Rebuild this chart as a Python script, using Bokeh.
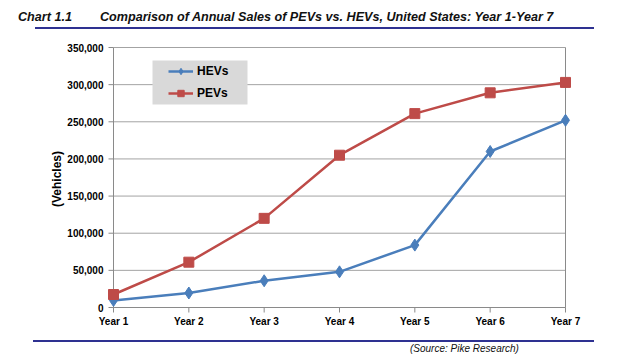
from bokeh.plotting import figure
from bokeh.models import (Range1d, FixedTicker, NumeralTickFormatter, Legend, LegendItem,
                          BoxAnnotation, Div, ColumnDataSource)
from bokeh.layouts import column
from bokeh.embed import file_html
from bokeh.resources import INLINE

# ---- data ----
years = ["Year 1", "Year 2", "Year 3", "Year 4", "Year 5", "Year 6", "Year 7"]
hevs = [9500, 19500, 36000, 48000, 84000, 210000, 252000]
pevs = [17500, 61000, 120000, 205000, 261000, 289000, 303000]
y_ticks = [0, 50000, 100000, 150000, 200000, 250000, 300000, 350000]

title_num = "Chart 1.1"
title_text = "Comparison of Annual Sales of PEVs vs. HEVs, United States: Year 1-Year 7"
source_text = "(Source: Pike Research)"
y_title = "(Vehicles)"

# ---- layout constants ----
FONT = "Liberation Sans"
BLUE = "#4a7ebb"
RED = "#be4b48"
NAVY = "#2e3191"
GRID = "#a3a3a3"
AXIS = "#8a8a8a"

xs = list(range(1, len(years) + 1))
PX_X = 452 / (xs[-1] - xs[0])          # pixels per category step
PX_Y = 260 / y_ticks[-1]               # pixels per unit
x_pad = 8 / PX_X
y_range = Range1d(-6 / PX_Y, y_ticks[-1] + 3 / PX_Y)
x_range = Range1d(xs[0] - x_pad, xs[-1] + x_pad)

src = ColumnDataSource(dict(x=xs, year=years, hev=hevs, pev=pevs))

p = figure(width=620, height=298, x_range=x_range, y_range=y_range,
           output_backend="svg", toolbar_location=None,
           min_border_left=105, min_border_right=47, min_border_top=8, min_border_bottom=21)
p.outline_line_color = None
p.xgrid.visible = False
p.ygrid.visible = False
p.background_fill_color = "white"
p.border_fill_color = "white"

# gridlines, axis lines, ticks (drawn inside the frame)
x0, x1 = xs[0], xs[-1]
p.segment(x0=[x0] * len(y_ticks), x1=[x1] * len(y_ticks), y0=y_ticks, y1=y_ticks,
          line_color=GRID, line_width=1)
p.segment(x0=[x0, x1], x1=[x0, x1], y0=[0, 0], y1=[y_ticks[-1], y_ticks[-1]],
          line_color=AXIS, line_width=1)
p.segment(x0=[x0], x1=[x1], y0=[0], y1=[0], line_color=AXIS, line_width=1)
p.segment(x0=[x0 - 5 / PX_X] * len(y_ticks), x1=[x0] * len(y_ticks), y0=y_ticks, y1=y_ticks,
          line_color=AXIS, line_width=1)
p.segment(x0=xs, x1=xs, y0=[0] * len(xs), y1=[-5 / PX_Y] * len(xs),
          line_color=AXIS, line_width=1)

# series
hev_line = p.line("x", "hev", source=src, line_color=BLUE, line_width=2.5)
hev_pts = p.scatter("x", "hev", source=src, marker="diamond", size=12,
                    fill_color=BLUE, line_color=BLUE)
pev_line = p.line("x", "pev", source=src, line_color=RED, line_width=2.5)
pev_pts = p.scatter("x", "pev", source=src, marker="square", size=10,
                    fill_color=RED, line_color=RED)

# axes
p.xaxis.ticker = FixedTicker(ticks=xs)
p.xaxis.major_label_overrides = {x: y for x, y in zip(xs, years)}
p.xaxis.axis_line_color = None
p.xaxis.major_tick_line_color = None
p.xaxis.minor_tick_line_color = None
p.xaxis.major_label_standoff = -4
p.xaxis.major_label_text_font = FONT
p.xaxis.major_label_text_font_size = "10px"
p.xaxis.major_label_text_font_style = "bold"
p.xaxis.major_label_text_color = "black"

p.yaxis.ticker = FixedTicker(ticks=y_ticks)
p.yaxis.formatter = NumeralTickFormatter(format="0,0")
p.yaxis.axis_line_color = None
p.yaxis.major_tick_line_color = None
p.yaxis.minor_tick_line_color = None
p.yaxis.major_label_standoff = -4
p.yaxis.major_label_text_font = FONT
p.yaxis.major_label_text_font_size = "10px"
p.yaxis.major_label_text_font_style = "bold"
p.yaxis.major_label_text_color = "black"
p.yaxis.axis_label = y_title
p.yaxis.axis_label_text_font = FONT
p.yaxis.axis_label_text_font_size = "12px"
p.yaxis.axis_label_text_font_style = "bold"
p.yaxis.axis_label_text_color = "black"
p.yaxis.axis_label_standoff = 0

# legend box and legend
box = BoxAnnotation(left=x0 + (152 - 113) / PX_X, right=x0 + (247 - 113) / PX_X,
                    top=(307 - 60) / PX_Y, bottom=(307 - 104) / PX_Y,
                    fill_color="#d9d9d9", fill_alpha=1, line_color=None)
p.add_layout(box)

legend = Legend(items=[LegendItem(label="HEVs", renderers=[hev_line, hev_pts]),
                       LegendItem(label="PEVs", renderers=[pev_line, pev_pts])],
                location=(63, 212), orientation="vertical",
                background_fill_alpha=0, border_line_color=None,
                padding=0, margin=0, spacing=6, glyph_width=25, glyph_height=16,
                label_height=16, label_standoff=4,
                label_text_font=FONT, label_text_font_size="12px",
                label_text_font_style="bold", label_text_color="black")
p.add_layout(legend, "center")

top_html = (
    f'<div style="position:relative;width:620px;height:36px;font-family:\'{FONT}\',Arial,sans-serif;color:#111;">'
    f'<span style="position:absolute;left:18px;top:10px;font-size:12.6px;line-height:15px;'
    f'font-weight:bold;font-style:italic;white-space:nowrap">{title_num}</span>'
    f'<span style="position:absolute;left:100px;top:10px;font-size:12.6px;line-height:15px;'
    f'font-weight:bold;font-style:italic;white-space:nowrap">{title_text}</span>'
    f'<div style="position:absolute;left:35px;top:27px;width:559px;height:2px;background:{NAVY}"></div>'
    f'</div>'
)
bottom_html = (
    f'<div style="position:relative;width:620px;height:24px;font-family:\'{FONT}\',Arial,sans-serif;color:#111;">'
    f'<div style="position:absolute;left:33px;top:6px;width:561px;height:2px;background:{NAVY}"></div>'
    f'<span style="position:absolute;left:410px;top:9px;font-size:10px;line-height:12px;'
    f'font-style:italic;white-space:nowrap">{source_text}</span>'
    f'</div>'
)
top = Div(text=top_html, width=620, height=36, margin=0)
bottom = Div(text=bottom_html, width=620, height=24, margin=0)

layout = column(top, p, bottom, spacing=0)

open("out.html", "w").write(file_html(layout, INLINE))
